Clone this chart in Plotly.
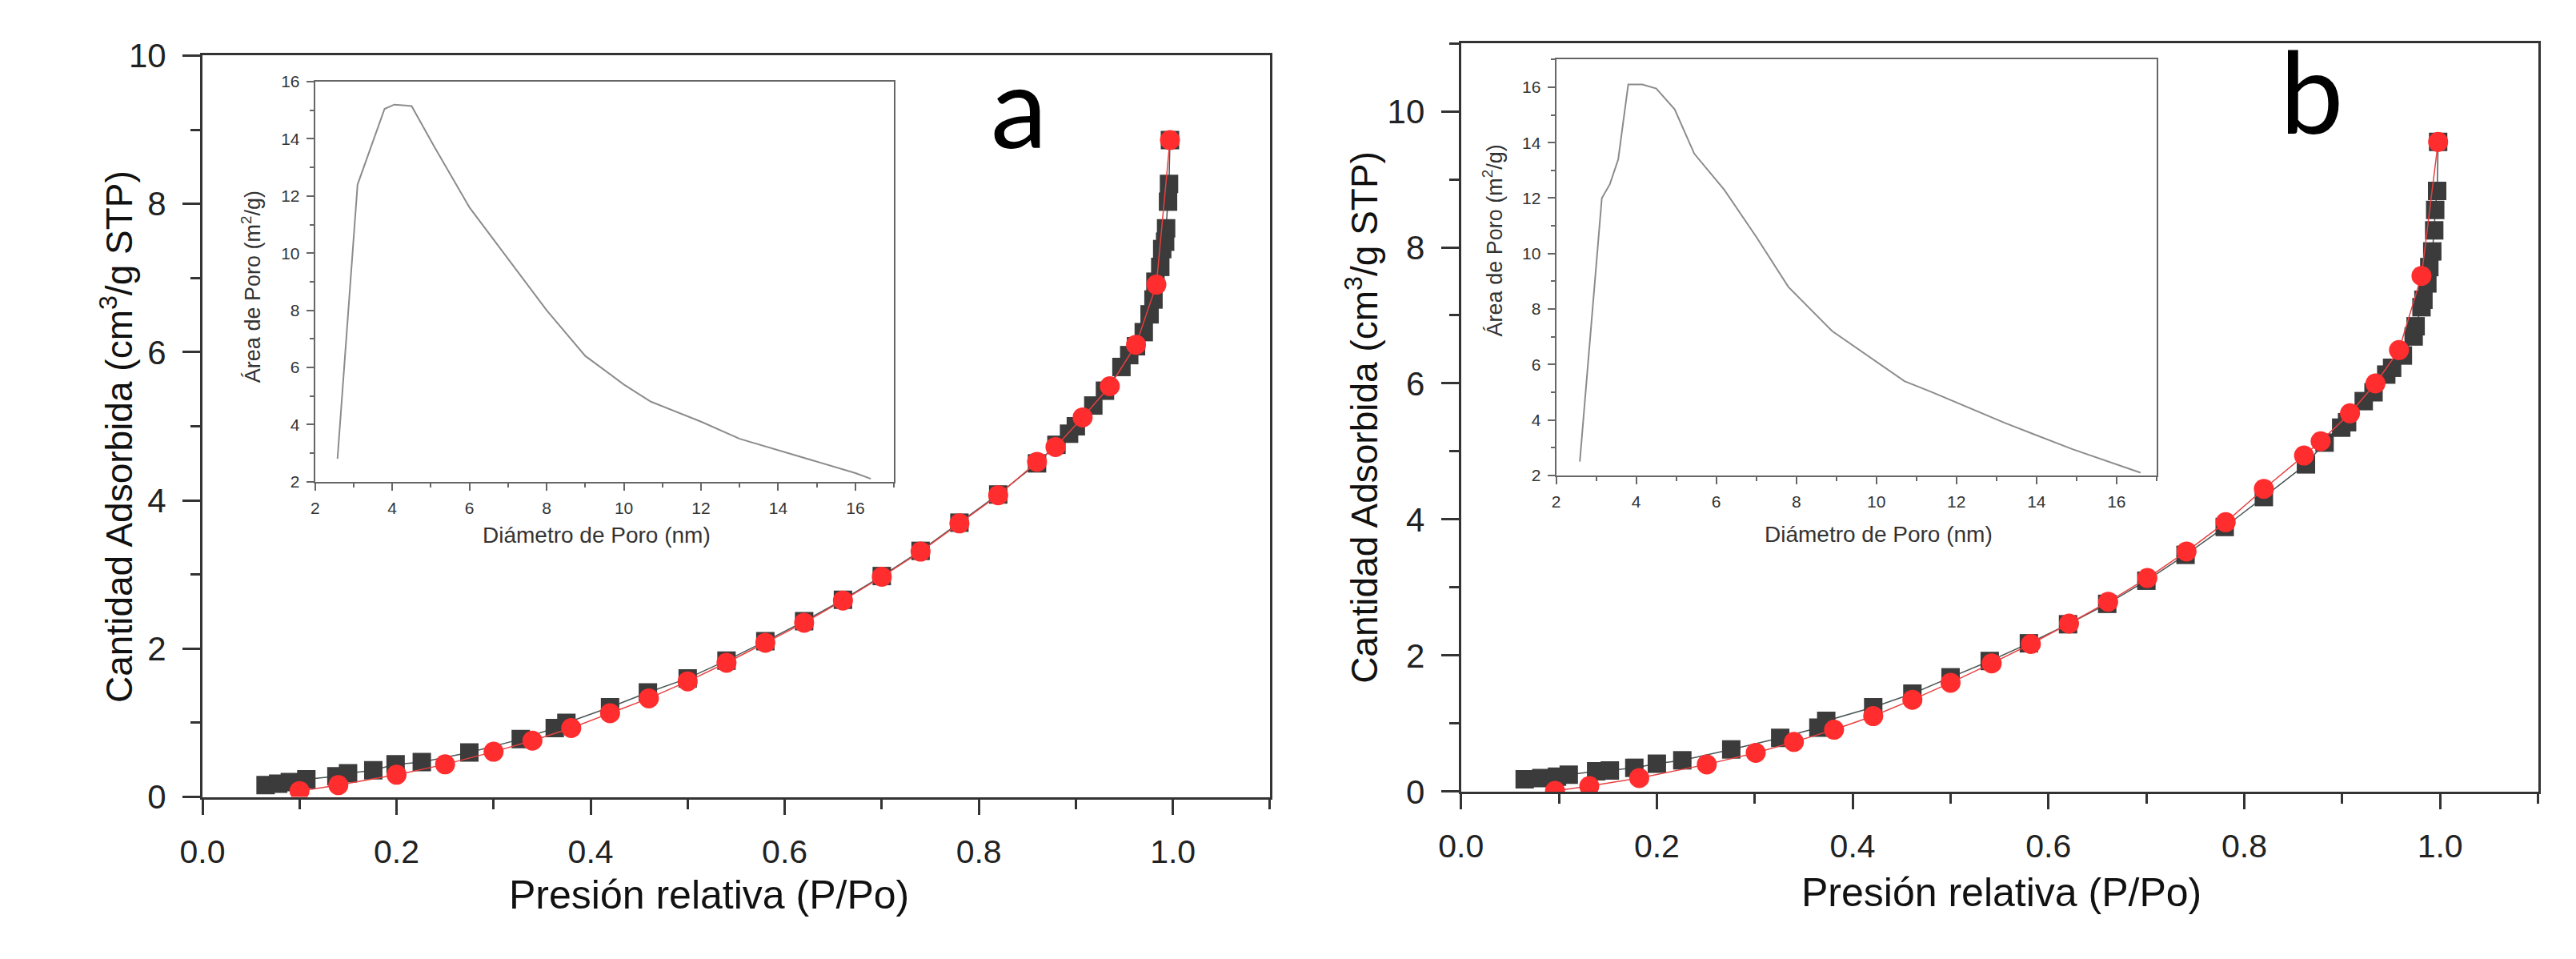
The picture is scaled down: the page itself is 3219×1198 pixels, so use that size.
import plotly.graph_objects as go

W, H = 3219, 1198

# ---------------- data ----------------
# Panel a - adsorption (black squares)
a_ads_x = [0.065, 0.078, 0.09, 0.107, 0.138, 0.15, 0.176, 0.199, 0.226, 0.275, 0.328, 0.363, 0.375,
           0.42, 0.459, 0.50, 0.54, 0.58, 0.62, 0.66, 0.70, 0.74, 0.78, 0.82, 0.86, 0.88, 0.893, 0.90,
           0.918, 0.93, 0.947, 0.955, 0.962, 0.97, 0.976, 0.98, 0.982, 0.987, 0.989, 0.992, 0.993,
           0.995, 0.996, 0.997]
a_ads_y = [0.16, 0.18, 0.20, 0.24, 0.28, 0.32, 0.36, 0.44, 0.47, 0.60, 0.78, 0.93, 1.00,
           1.21, 1.41, 1.60, 1.84, 2.10, 2.37, 2.66, 2.98, 3.32, 3.70, 4.08, 4.50, 4.75, 4.90, 5.00,
           5.28, 5.48, 5.80, 5.96, 6.08, 6.27, 6.51, 6.71, 6.95, 7.15, 7.39, 7.49, 7.67,
           8.03, 8.27, 8.86]
# Panel a - desorption (red circles)
a_des_x = [0.10, 0.14, 0.20, 0.25, 0.30, 0.34, 0.38, 0.42, 0.46, 0.50, 0.54, 0.58, 0.62, 0.66,
           0.70, 0.74, 0.78, 0.82, 0.86, 0.879, 0.907, 0.935, 0.962, 0.983, 0.997]
a_des_y = [0.08, 0.16, 0.30, 0.44, 0.61, 0.76, 0.93, 1.13, 1.33, 1.56, 1.81, 2.08, 2.35, 2.65,
           2.97, 3.31, 3.69, 4.07, 4.52, 4.72, 5.12, 5.54, 6.10, 6.91, 8.86]

# Panel b - adsorption (black squares)
b_ads_x = [0.065, 0.082, 0.098, 0.11, 0.138, 0.152, 0.177, 0.20, 0.226, 0.276, 0.326, 0.365, 0.373,
           0.421, 0.461, 0.50, 0.54, 0.58, 0.62, 0.66, 0.70, 0.74, 0.78, 0.82, 0.863, 0.882, 0.899,
           0.905, 0.922, 0.932, 0.945, 0.951, 0.962, 0.973, 0.975, 0.981, 0.983, 0.987, 0.989,
           0.992, 0.994, 0.995, 0.997, 0.998]
b_ads_y = [0.18, 0.20, 0.22, 0.25, 0.30, 0.31, 0.35, 0.41, 0.46, 0.62, 0.79, 0.94, 1.04,
           1.24, 1.44, 1.68, 1.92, 2.18, 2.46, 2.76, 3.10, 3.48, 3.89, 4.33, 4.81, 5.13, 5.35,
           5.43, 5.74, 5.87, 6.13, 6.23, 6.41, 6.69, 6.84, 7.12, 7.23, 7.47, 7.71,
           7.94, 8.25, 8.55, 8.83, 9.55]
# Panel b - desorption (red circles)
b_des_x = [0.096, 0.131, 0.182, 0.251, 0.301, 0.34, 0.381, 0.421, 0.461, 0.50, 0.542, 0.582, 0.621,
           0.661, 0.701, 0.741, 0.781, 0.82, 0.861, 0.878, 0.908, 0.934, 0.958, 0.981, 0.998]
b_des_y = [0.01, 0.08, 0.20, 0.40, 0.57, 0.73, 0.91, 1.11, 1.35, 1.60, 1.885, 2.17, 2.47,
           2.79, 3.14, 3.53, 3.96, 4.45, 4.94, 5.15, 5.56, 6.00, 6.49, 7.58, 9.55]

# Insets - pore area distribution
a_pore_x = [2.58, 3.1, 3.8, 4.05, 4.5, 5.1, 6.0, 7.0, 8.0, 9.0, 10.0, 10.7, 12.0, 13.0, 14.0, 15.0, 16.0, 16.4]
a_pore_y = [2.8, 12.4, 15.05, 15.2, 15.15, 13.7, 11.6, 9.8, 8.0, 6.4, 5.4, 4.8, 4.1, 3.5, 3.1, 2.7, 2.3, 2.1]
b_pore_x = [2.59, 3.14, 3.34, 3.55, 3.8, 4.15, 4.5, 4.96, 5.45, 6.2, 7.0, 7.8, 8.9, 10.7, 11.4, 13.2, 14.9, 16.6]
b_pore_y = [2.5, 12.0, 12.5, 13.4, 16.1, 16.1, 15.95, 15.2, 13.6, 12.3, 10.6, 8.8, 7.2, 5.4, 5.0, 3.9, 2.95, 2.1]

# text
main_xtitle = "Presión relativa (P/Po)"
main_ytitle = "Cantidad Adsorbida (cm<sup>3</sup>/g STP)"
inset_xtitle = "Diámetro de Poro (nm)"
inset_ytitle = "Área de Poro (m<sup>2</sup>/g)"

# ---------------- helpers ----------------
def px(x):
    return x / W

def py(y):
    return 1 - y / H

BLACK = "#3b3b3b"
RED = "#ff2d2d"
FONT = "Liberation Sans, Arial, sans-serif"

fig = go.Figure()

def iso(x, y, xa, ya, kind):
    if kind == "ads":
        fig.add_trace(go.Scatter(x=x, y=y, xaxis=xa, yaxis=ya, mode="lines+markers",
                                 line=dict(color="#4a5555", width=1.5),
                                 marker=dict(symbol="square", size=23, color=BLACK),
                                 showlegend=False))
    else:
        fig.add_trace(go.Scatter(x=x, y=y, xaxis=xa, yaxis=ya, mode="lines+markers",
                                 line=dict(color="#e84040", width=1.5),
                                 marker=dict(symbol="circle", size=25, color=RED),
                                 showlegend=False))

iso(a_ads_x, a_ads_y, "x", "y", "ads")
iso(a_des_x, a_des_y, "x", "y", "des")
iso(b_ads_x, b_ads_y, "x3", "y3", "ads")
iso(b_des_x, b_des_y, "x3", "y3", "des")

fig.add_trace(go.Scatter(x=a_pore_x, y=a_pore_y, xaxis="x2", yaxis="y2", mode="lines",
                         line=dict(color="#8c8c8c", width=2), showlegend=False))
fig.add_trace(go.Scatter(x=b_pore_x, y=b_pore_y, xaxis="x4", yaxis="y4", mode="lines",
                         line=dict(color="#8c8c8c", width=2), showlegend=False))

def main_x(dom, anchor):
    return dict(domain=dom, anchor=anchor, range=[0, 1.1], dtick=0.2, tick0=0,
                tickformat=".1f", showgrid=False, zeroline=False,
                showline=True, linecolor="#333", linewidth=3, mirror=True,
                ticks="outside", ticklen=19, tickwidth=3, tickcolor="#333",
                minor=dict(dtick=0.1, ticks="outside", ticklen=12, tickwidth=3, tickcolor="#333"),
                tickfont=dict(family=FONT, size=41, color="#222"), ticklabelstandoff=11)

def main_y(dom, anchor, top):
    return dict(domain=dom, anchor=anchor, range=[0, top], dtick=2, tick0=0,
                showgrid=False, zeroline=False,
                showline=True, linecolor="#333", linewidth=3, mirror=True,
                ticks="outside", ticklen=22, tickwidth=3, tickcolor="#333",
                minor=dict(dtick=1, ticks="outside", ticklen=12, tickwidth=3, tickcolor="#333"),
                tickfont=dict(family=FONT, size=42, color="#222"), ticklabelstandoff=12)

def inset_x(dom, anchor):
    return dict(domain=dom, anchor=anchor, range=[2, 17], dtick=2, tick0=2,
                showgrid=False, zeroline=False,
                showline=True, linecolor="#666", linewidth=2, mirror=True,
                ticks="outside", ticklen=9, tickwidth=2, tickcolor="#666",
                minor=dict(dtick=1, ticks="outside", ticklen=5, tickwidth=2, tickcolor="#666"),
                tickfont=dict(family=FONT, size=21, color="#333"), ticklabelstandoff=4)

def inset_y(dom, anchor, top):
    return dict(domain=dom, anchor=anchor, range=[2, top], dtick=2, tick0=2,
                showgrid=False, zeroline=False,
                showline=True, linecolor="#666", linewidth=2, mirror=True,
                ticks="outside", ticklen=9, tickwidth=2, tickcolor="#666",
                minor=dict(dtick=1, ticks="outside", ticklen=5, tickwidth=2, tickcolor="#666"),
                tickfont=dict(family=FONT, size=21, color="#333"), ticklabelstandoff=4)

fig.update_layout(
    width=W, height=H, margin=dict(l=0, r=0, t=0, b=0),
    paper_bgcolor="white", plot_bgcolor="white",
    xaxis=main_x([px(218), px(1564)], "y"),
    yaxis=main_y([py(1004), py(40)], "x", 10),
    xaxis2=inset_x([px(360), px(1090)], "y2"),
    yaxis2=inset_y([py(594), py(74)], "x2", 16),
    xaxis3=main_x([px(1805), px(3163)], "y3"),
    yaxis3=main_y([py(997), py(24)], "x3", 11),
    xaxis4=inset_x([px(1925), px(2682)], "y4"),
    yaxis4=inset_y([py(586), py(45)], "x4", 17),
)

def label(text, x, y, size, angle=0, family=FONT, color="#111"):
    fig.add_annotation(text=text, x=px(x), y=py(y), xref="paper", yref="paper",
                       showarrow=False, textangle=angle, xanchor="center", yanchor="middle",
                       font=dict(family=family, size=size, color=color))

label(main_xtitle, 857, 1131, 50)
label(main_ytitle, 110, 536, 46, -90)
label(main_xtitle, 2486, 1128, 50)
label(main_ytitle, 1680, 510, 46, -90)
label(inset_xtitle, 715, 664, 28, 0, FONT, "#333")
label(inset_ytitle, 279, 340, 27, -90, FONT, "#333")
label(inset_xtitle, 2331, 663, 28, 0, FONT, "#333")
label(inset_ytitle, 1845, 280, 27, -90, FONT, "#333")
label("a", 1248, 103, 142, 0, "Lato, Open Sans, sans-serif", "#000")
label("b", 2878, 84, 142, 0, "Lato, Open Sans, sans-serif", "#000")

fig.write_html("out.html")
